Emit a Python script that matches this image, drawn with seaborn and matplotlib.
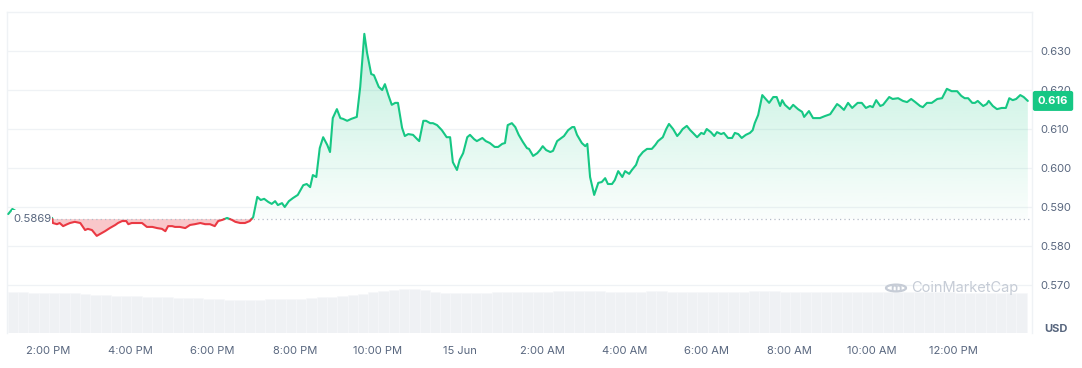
import numpy as np
import pandas as pd
import matplotlib
matplotlib.use("Agg")
import matplotlib.pyplot as plt
import seaborn as sns
from matplotlib.path import Path
from matplotlib.patches import Circle, Rectangle
from matplotlib.transforms import blended_transform_factory

# ---------------- data ----------------
# minutes since 14 Jun 2:00 PM
minutes = [-58, -52, -38, -23, -9, 6, 7, 13, 17, 22, 28, 32, 39, 47, 54, 58, 64, 71, 76, 83,
           90, 98, 102, 108, 114, 117, 122, 130, 137, 144, 152, 159, 166, 171, 175, 181, 185, 192, 200, 207,
           214, 222, 229, 236, 243, 248, 254, 261, 268, 273, 280, 287, 294, 299, 305, 310, 315, 321, 326, 331,
           335, 341, 345, 351, 357, 364, 372, 377, 382, 386, 391, 396, 401, 407, 411, 415, 421, 426, 430, 436,
           442, 450, 455, 461, 465, 471, 475, 482, 487, 491, 496, 501, 506, 510, 516, 520, 525, 532, 538, 541,
           547, 551, 557, 561, 567, 574, 581, 586, 590, 596, 600, 605, 611, 615, 621, 625, 633, 638, 644, 651,
           656, 662, 666, 670, 676, 681, 686, 692, 698, 701, 707, 713, 717, 721, 726, 732, 736, 742, 748, 752,
           758, 764, 767, 771, 778, 783, 786, 790, 796, 802, 807, 812, 816, 822, 826, 831, 837, 841, 847, 851,
           857, 861, 867, 873, 880, 885, 889, 896, 901, 905, 911, 917, 921, 925, 931, 936, 940, 946, 952, 956,
           960, 966, 971, 975, 981, 985, 991, 997, 1001, 1006, 1011, 1017, 1023, 1027, 1030, 1035, 1041, 1045, 1051, 1057,
           1062, 1067, 1070, 1074, 1081, 1086, 1093, 1099, 1102, 1109, 1115, 1125, 1132, 1140, 1150, 1154, 1160, 1166, 1172, 1180,
           1186, 1192, 1198, 1202, 1207, 1213, 1217, 1226, 1231, 1239, 1246, 1252, 1258, 1264, 1271, 1275, 1281, 1288, 1296, 1303,
           1310, 1317, 1325, 1331, 1336, 1341, 1347, 1351, 1355, 1363, 1368, 1371, 1377, 1383, 1390, 1396, 1401, 1406, 1411, 1417,
           1422, 1428]
prices = [0.5882, 0.5895, 0.5880, 0.5876, 0.5874, 0.5872, 0.5859, 0.5856, 0.5859, 0.5851, 0.5856, 0.5859, 0.5862, 0.5859, 0.5841, 0.5844, 0.5841, 0.5826, 0.5831, 0.5838,
          0.5846, 0.5854, 0.5859, 0.5864, 0.5864, 0.5856, 0.5859, 0.5859, 0.5859, 0.5849, 0.5849, 0.5846, 0.5844, 0.5838, 0.5851, 0.5851, 0.5849, 0.5849, 0.5846, 0.5854,
          0.5856, 0.5859, 0.5856, 0.5856, 0.5851, 0.5864, 0.5867, 0.5872, 0.5867, 0.5862, 0.5859, 0.5859, 0.5864, 0.5874, 0.5926, 0.5918, 0.5921, 0.5913, 0.5908, 0.5915,
          0.5905, 0.5910, 0.5900, 0.5915, 0.5923, 0.5931, 0.5956, 0.5959, 0.5951, 0.5982, 0.5977, 0.6051, 0.6079, 0.6059, 0.6041, 0.6128, 0.6151, 0.6128, 0.6126, 0.6121,
          0.6126, 0.6131, 0.6208, 0.6344, 0.6295, 0.6241, 0.6238, 0.6208, 0.6200, 0.6215, 0.6187, 0.6162, 0.6167, 0.6167, 0.6103, 0.6082, 0.6087, 0.6085, 0.6074, 0.6069,
          0.6121, 0.6121, 0.6115, 0.6115, 0.6110, 0.6097, 0.6079, 0.6079, 0.6015, 0.5995, 0.6021, 0.6038, 0.6079, 0.6085, 0.6074, 0.6069, 0.6077, 0.6069, 0.6064, 0.6054,
          0.6054, 0.6062, 0.6064, 0.6110, 0.6115, 0.6105, 0.6085, 0.6067, 0.6051, 0.6049, 0.6031, 0.6038, 0.6046, 0.6056, 0.6046, 0.6041, 0.6044, 0.6069, 0.6077, 0.6082,
          0.6097, 0.6105, 0.6105, 0.6085, 0.6064, 0.6056, 0.6062, 0.5977, 0.5931, 0.5962, 0.5964, 0.5974, 0.5959, 0.5959, 0.5969, 0.5992, 0.5977, 0.5992, 0.5985, 0.5995,
          0.6008, 0.6028, 0.6041, 0.6049, 0.6049, 0.6059, 0.6069, 0.6079, 0.6100, 0.6113, 0.6100, 0.6082, 0.6090, 0.6100, 0.6108, 0.6097, 0.6090, 0.6079, 0.6090, 0.6087,
          0.6100, 0.6092, 0.6082, 0.6092, 0.6087, 0.6090, 0.6077, 0.6077, 0.6090, 0.6087, 0.6077, 0.6085, 0.6090, 0.6097, 0.6115, 0.6136, 0.6187, 0.6179, 0.6167, 0.6182,
          0.6182, 0.6159, 0.6174, 0.6162, 0.6151, 0.6162, 0.6151, 0.6144, 0.6131, 0.6146, 0.6128, 0.6128, 0.6133, 0.6138, 0.6164, 0.6159, 0.6149, 0.6167, 0.6154, 0.6167,
          0.6167, 0.6154, 0.6159, 0.6156, 0.6174, 0.6159, 0.6162, 0.6182, 0.6177, 0.6179, 0.6172, 0.6169, 0.6177, 0.6169, 0.6159, 0.6156, 0.6167, 0.6167, 0.6177, 0.6179,
          0.6203, 0.6197, 0.6197, 0.6185, 0.6179, 0.6179, 0.6167, 0.6167, 0.6172, 0.6159, 0.6164, 0.6172, 0.6159, 0.6151, 0.6154, 0.6154, 0.6179, 0.6174, 0.6177, 0.6187,
          0.6182, 0.6172]

baseline_price = 0.5869
baseline_label = "0.5869"
last_price_label = "0.616"

# volume (arbitrary units, 15-minute bars)
volume = [4.1, 4.1, 4.0, 4.0, 4.0, 4.0, 4.0, 3.9, 3.8, 3.8,
          3.7, 3.7, 3.7, 3.6, 3.6, 3.6, 3.5, 3.5, 3.5, 3.4,
          3.4, 3.3, 3.3, 3.3, 3.3, 3.4, 3.4, 3.4, 3.4, 3.5,
          3.6, 3.6, 3.7, 3.8, 3.9, 4.1, 4.2, 4.3, 4.4, 4.4,
          4.3, 4.1, 4.0, 4.0, 4.0, 4.0, 4.0, 4.1, 4.1, 4.1,
          4.1, 4.1, 4.1, 4.2, 4.2, 4.2, 4.2, 4.2, 4.1, 4.1,
          4.1, 4.1, 4.2, 4.2, 4.1, 4.1, 4.1, 4.1, 4.1, 4.1,
          4.1, 4.1, 4.2, 4.2, 4.2, 4.1, 4.1, 4.1, 4.1, 4.1,
          4.1, 4.1, 4.1, 4.1, 4.1, 4.1, 4.1, 4.1, 4.1, 4.1,
          4.1, 4.1, 4.0, 4.0, 4.0, 4.0, 4.0, 4.0, 4.0]
volume_start_minute = -51
volume_step_minutes = 15

tick_minutes = [0, 120, 240, 360, 480, 600, 720, 840, 960, 1080, 1200, 1320]
tick_labels = ["2:00 PM", "4:00 PM", "6:00 PM", "8:00 PM", "10:00 PM", "15 Jun",
               "2:00 AM", "4:00 AM", "6:00 AM", "8:00 AM", "10:00 AM", "12:00 PM"]
price_ticks = [0.570, 0.580, 0.590, 0.600, 0.610, 0.620, 0.630]

# ---------------- style ----------------
GREEN = "#16c784"
RED = "#ea3943"
GRID = "#eff2f5"
TEXT = "#58667e"

sns.set_theme(style="white")
plt.rcParams["font.family"] = ["Inter", "DejaVu Sans"]

W, H = 1082, 368
fig = plt.figure(figsize=(W / 100, H / 100), dpi=100)
left_px, right_px, top_px, bottom_px = 7, 1032, 12, 333
rect = [left_px / W, 1 - bottom_px / H, (right_px - left_px) / W, (bottom_px - top_px) / H]

xlim = (-59.8, 1434.1)
ylim = (0.5577, 0.6400)

# volume axes (behind)
ax_vol = fig.add_axes(rect)
vol_t = volume_start_minute + volume_step_minutes * np.arange(len(volume))
ax_vol.bar(vol_t, volume, width=volume_step_minutes, color="#eff1f4",
           edgecolor="#f7f8fa", linewidth=0.4)
ax_vol.set_xlim(*xlim)
ax_vol.set_ylim(0, 32.1)
ax_vol.axis("off")

# main price axes
ax = fig.add_axes(rect, sharex=ax_vol)
ax.patch.set_alpha(0)

t = np.array(minutes, dtype=float)
p = np.array(prices, dtype=float)
base = baseline_price

# split line into above / below baseline segments
rows = []
seg = 0
prev_side = None
for i in range(len(t)):
    side = "up" if p[i] >= base else "down"
    if prev_side is not None and side != prev_side:
        a, b = p[i - 1] - base, p[i] - base
        frac = a / (a - b) if a != b else 0.0
        tc = t[i - 1] + (t[i] - t[i - 1]) * frac
        rows.append((tc, base, prev_side, seg))
        seg += 1
        rows.append((tc, base, side, seg))
    rows.append((t[i], p[i], side, seg))
    prev_side = side
df = pd.DataFrame(rows, columns=["minute", "price", "side", "seg"])

# fills
green_poly = ax.fill_between(t, p, base, where=p >= base, interpolate=True,
                             facecolor="none", edgecolor="none")
ax.fill_between(t, p, base, where=p <= base, interpolate=True,
                facecolor=RED, alpha=0.28, edgecolor="none", zorder=1)

gpaths = green_poly.get_paths()
if gpaths:
    cp = Path.make_compound_path(*gpaths)
    n = 256
    rgba = np.zeros((n, 1, 4))
    rgba[..., :3] = matplotlib.colors.to_rgb(GREEN)
    rgba[..., 3] = np.linspace(0.30, 0.02, n).reshape(-1, 1)
    im = ax.imshow(rgba, extent=[xlim[0], xlim[1], base, ylim[1]], origin="upper",
                   aspect="auto", zorder=1, interpolation="bilinear")
    im.set_clip_path(cp, transform=ax.transData)

sns.lineplot(data=df, x="minute", y="price", hue="side", units="seg", estimator=None,
             palette={"up": GREEN, "down": RED}, linewidth=1.5, legend=False,
             ax=ax, zorder=3, sort=False)

# baseline dotted
ax.hlines(base, t[5], xlim[1], colors="#b4bcc8", linestyles=(0, (1, 2.5)),
          linewidth=0.9, zorder=2)

ax.set_xlim(*xlim)
ax.set_ylim(*ylim)

# grid & spines
for v in price_ticks:
    ax.axhline(v, color=GRID, linewidth=0.9, zorder=0)
for s in ["top", "left", "right"]:
    ax.spines[s].set_visible(True)
    ax.spines[s].set_color(GRID)
    ax.spines[s].set_linewidth(1.0)
ax.spines["bottom"].set_visible(False)

ax.yaxis.tick_right()
ax.set_yticks(price_ticks)
ax.set_yticklabels([f"{v:.3f}" for v in price_ticks])
ax.tick_params(axis="y", length=0, pad=6, labelsize=8, labelcolor=TEXT)
ax.set_xticks(tick_minutes)
ax.set_xticklabels(tick_labels)
ax.tick_params(axis="x", length=0, pad=9, labelsize=8, labelcolor=TEXT)
ax.set_xlabel("")
ax.set_ylabel("")
ax.grid(False)

# baseline label on a white plate
bt = blended_transform_factory(ax.transAxes, ax.transData)
plate = Rectangle((0.0048, 0.58415), 0.039, 0.0052, transform=bt,
                  facecolor="white", edgecolor="none", zorder=5)
ax.add_patch(plate)
ax.text(0.0062, base, baseline_label, transform=bt, ha="left", va="center",
        fontsize=8.2, color=TEXT, zorder=6)

# last price label
ax.text(1.0205, p[-1], last_price_label, transform=bt, ha="center", va="center",
        fontsize=8, color="white", fontweight="bold", zorder=6, clip_on=False,
        bbox=dict(boxstyle="round,pad=0.45,rounding_size=0.2", fc=GREEN, ec="none"))

# USD label
fig.text(1056 / W, 1 - 329 / H, "USD", ha="center", va="center",
         fontsize=8, color=TEXT, fontweight="bold")

# watermark
wm_color = "#c6ccd6"
fig.text(911 / W, 1 - 288 / H, "CoinMarketCap", ha="left", va="center",
         fontsize=10.5, color=wm_color)
circ = Circle((896 / W, 1 - 288 / H), 10 / W, transform=fig.transFigure,
              fill=False, edgecolor=wm_color, linewidth=1.6)
fig.add_artist(circ)
fig.text(896 / W, 1 - 289 / H, "m", ha="center", va="center", fontsize=9,
         color=wm_color, fontweight="bold")

fig.savefig("out.png", dpi=100)
